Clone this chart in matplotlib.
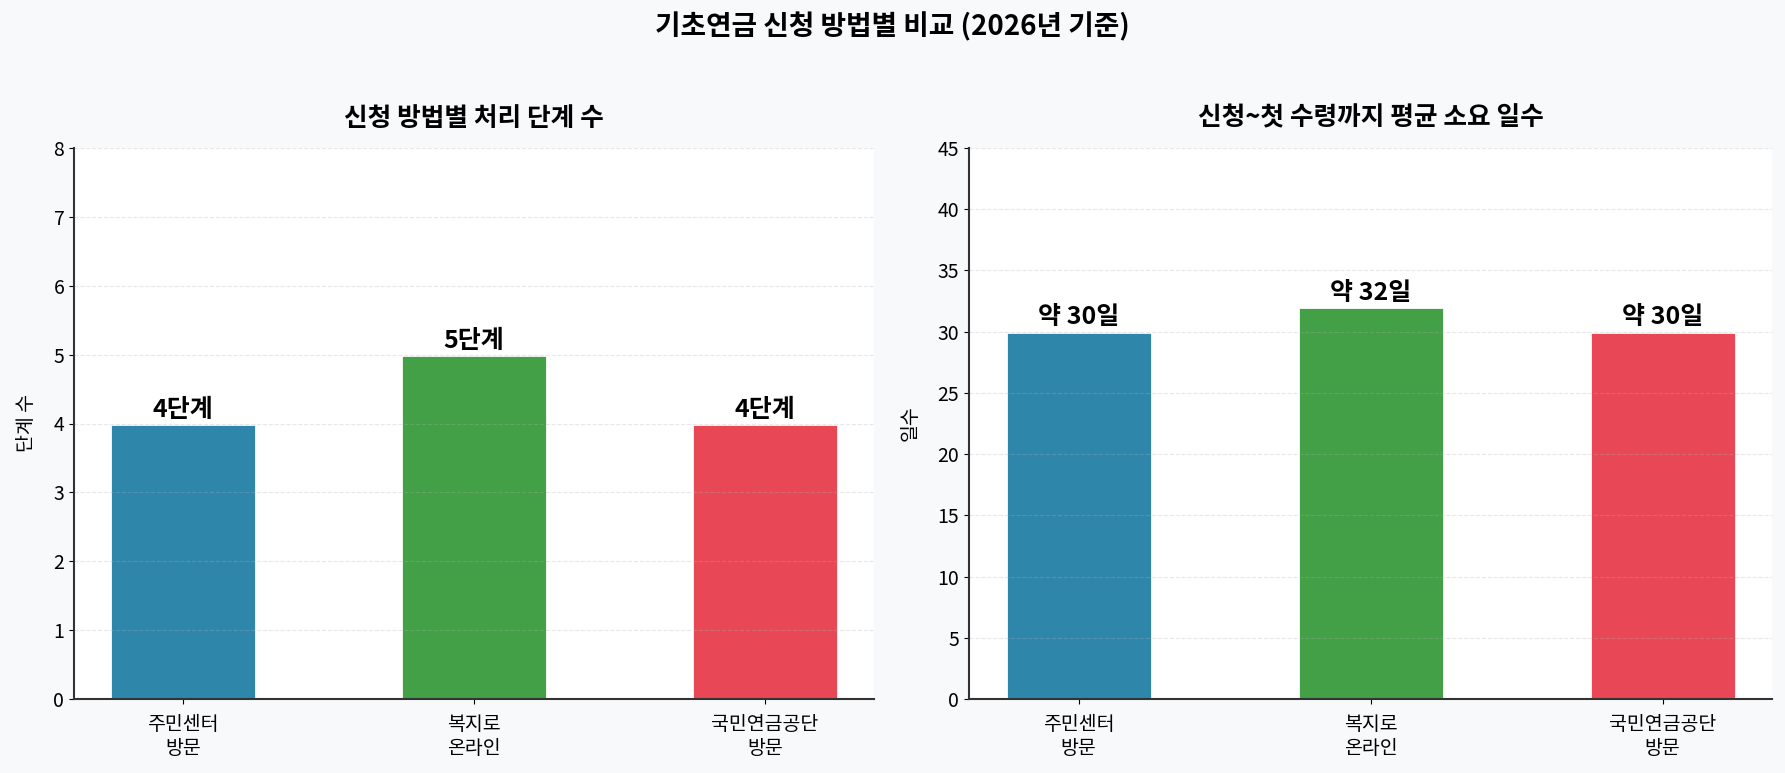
import matplotlib
matplotlib.use("Agg")
import matplotlib.pyplot as plt
import numpy as np

plt.rcParams['font.family'] = ['Noto Sans CJK KR', 'DejaVu Sans']

# data
methods = ['주민센터\n방문', '복지로\n온라인', '국민연금공단\n방문']
steps = [4, 5, 4]
step_labels = ['4단계', '5단계', '4단계']
days = [30, 32, 30]
day_labels = ['약 30일', '약 32일', '약 30일']
colors = ['#2E86AB', '#43A047', '#E84855']

fig = plt.figure(figsize=(17.85, 7.73), dpi=100, facecolor='#F8F9FA')
ax1 = fig.add_axes([74/1785, 1 - 699/773, 800/1785, 551/773])
ax2 = fig.add_axes([969/1785, 1 - 699/773, 803/1785, 551/773])

x = np.arange(len(methods))

def draw(ax, vals, labels, title, ylabel, ylim, off):
    ax.set_facecolor('white')
    ax.bar(x, vals, width=0.5, color=colors, edgecolor='white', linewidth=2)
    for xi, v, lab in zip(x, vals, labels):
        ax.text(xi, v + off, lab, ha='center', va='bottom',
                fontsize=18, fontweight='bold')
    ax.set_xticks(x)
    ax.set_xticklabels(methods, fontsize=14)
    ax.tick_params(axis='x', pad=7)
    ax.tick_params(axis='y', labelsize=14)
    ax.set_ylim(*ylim)
    ax.set_ylabel(ylabel, fontsize=14, labelpad=12)
    ax.set_title(title, fontsize=18.5, fontweight='bold', pad=16)
    ax.grid(axis='y', linestyle='--', alpha=0.3)
    ax.spines['top'].set_visible(False)
    ax.spines['right'].set_visible(False)
    ax.spines['left'].set_linewidth(1.5)
    ax.spines['bottom'].set_linewidth(1.5)
    ax.spines['left'].set_color('#333333')
    ax.spines['bottom'].set_color('#333333')

draw(ax1, steps, step_labels, '신청 방법별 처리 단계 수', '단계 수', (0, 8), 0.02)
draw(ax2, days, day_labels, '신청~첫 수령까지 평균 소요 일수', '일수', (0, 45), 0.2)

fig.suptitle('기초연금 신청 방법별 비교 (2026년 기준)', fontsize=20,
             fontweight='bold', y=0.985)

fig.savefig('out.png', dpi=100, facecolor=fig.get_facecolor())
